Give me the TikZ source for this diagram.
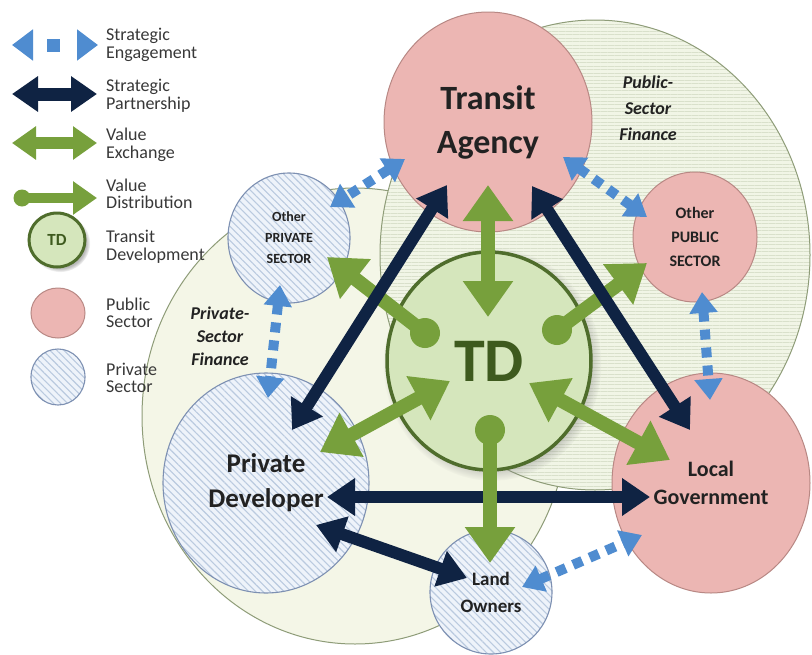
\documentclass[tikz,border=0pt]{standalone}
\usepackage{fontspec}
\setmainfont{Carlito}
\usetikzlibrary{arrows.meta,calc,shapes.geometric,patterns.meta,shadows}

\definecolor{navy}{HTML}{0F2343}
\definecolor{vgreen}{HTML}{77A03C}
\definecolor{sblue}{HTML}{4F8CD0}
\definecolor{pinkfill}{HTML}{ECB6B3}
\definecolor{pinkline}{HTML}{B88884}
\definecolor{tdfill}{HTML}{D5E6BC}
\definecolor{tdline}{HTML}{4F6D2C}
\definecolor{tdtext}{HTML}{3E5A1E}
\definecolor{privfill}{HTML}{EEF3FA}
\definecolor{privhatch}{HTML}{BACADF}
\definecolor{privline}{HTML}{7D90B2}
\definecolor{finfill}{HTML}{F4F6E7}
\definecolor{pubfinfill}{HTML}{F1F5E6}
\definecolor{pubfinhatch}{HTML}{D9E0CB}
\definecolor{finline}{HTML}{8E9C78}
\definecolor{txt}{HTML}{222222}
\definecolor{legtxt}{HTML}{383838}

\tikzset{
  pubnode/.style={ellipse, inner sep=0pt, fill=pinkfill, draw=pinkline, line width=1pt, align=center, text=txt},
  privnode/.style={ellipse, inner sep=0pt, preaction={fill=privfill},
    pattern={Lines[angle=-45,distance=5pt,line width=1.1pt]}, pattern color=privhatch,
    draw=privline, line width=1.1pt, align=center, text=txt},
  tdnode/.style={ellipse, inner sep=0pt, fill=tdfill, draw=tdline, line width=3.5pt, text=tdtext,
    circular drop shadow={shadow xshift=3pt, shadow yshift=-3pt, shadow scale=1.07, opacity=.55}},
  finarea/.style={draw=finline, line width=1pt, fill=finfill},
  pubfinarea/.style={draw=finline, line width=1pt, preaction={fill=pubfinfill},
    pattern={Lines[angle=0,distance=3.5pt,line width=.6pt]}, pattern color=pubfinhatch},
  fintext/.style={align=center, inner sep=0pt, text=txt, font=\fontsize{18}{26}\selectfont\bfseries\itshape},
  legtext/.style={align=left, inner sep=0pt, anchor=west, text=legtxt, font=\fontsize{18}{17.5}\selectfont},
  navyarr/.style={draw=navy, line width=12pt, arrows={Triangle[width=36pt,length=28pt]-Triangle[width=36pt,length=28pt]}},
  vearr/.style={draw=vgreen, line width=14pt, arrows={Triangle[width=48pt,length=36pt]-Triangle[width=48pt,length=36pt]}},
  vdarr/.style={draw=vgreen, line width=14pt, arrows={-Triangle[width=48pt,length=36pt]}},
  searr/.style={draw=sblue, line width=10pt, dash pattern=on 10pt off 8pt,
    arrows={Triangle[width=27pt,length=21pt]-Triangle[width=27pt,length=21pt]}},
}

\begin{document}
\begin{tikzpicture}[x=1pt,y=-1pt]
\useasboundingbox (0,0) rectangle (812,654);
\fill[white] (0,0) rectangle (812,654);

% finance areas
\draw[finarea] (355,416) ellipse [x radius=213pt, y radius=228pt];
\draw[pubfinarea] (595,255) ellipse [x radius=215pt, y radius=235pt];
\node[fintext] (pubfin) at (648,108) {Public-\\Sector\\Finance};
\node[fintext, font=\fontsize{18}{23}\selectfont\bfseries\itshape] (privfin) at (220,336) {Private-\\Sector\\Finance};

% legend
\coordinate (le1a) at (12,45);  \coordinate (le1b) at (98,45);
\coordinate (le2a) at (12,94);  \coordinate (le2b) at (97,94);
\coordinate (le3a) at (12,143); \coordinate (le3b) at (97,143);
\coordinate (le4a) at (22,198); \coordinate (le4b) at (97,198);
\draw[searr, line width=13pt, dash pattern=on 0pt off 15.5pt on 13pt off 100pt,
  arrows={Triangle[width=30pt,length=21pt]-Triangle[width=30pt,length=21pt]}] (le1a) -- (le1b);
\draw[navyarr, line width=13pt, arrows={Triangle[width=34pt,length=26pt]-Triangle[width=34pt,length=26pt]}] (le2a) -- (le2b);
\draw[vearr, line width=12pt, arrows={Triangle[width=32pt,length=24pt]-Triangle[width=32pt,length=24pt]}] (le3a) -- (le3b);
\fill[vgreen] (le4a) circle[radius=8.5pt];
\draw[vdarr, line width=10pt, arrows={-Triangle[width=32pt,length=24pt]}] (le4a) -- (le4b);
\node[tdnode, minimum width=56pt, minimum height=54pt, line width=3pt,
  font=\fontsize{17}{17}\selectfont\bfseries] (legtd) at (57,240) {TD};
\node[pubnode, minimum width=54pt, minimum height=50pt] (legpub) at (58,313) {};
\node[privnode, minimum width=54pt, minimum height=56pt] (legpriv) at (58,377) {};
\node[legtext] (l1) at (106,45) {Strategic\\Engagement};
\node[legtext] (l2) at (106,96) {Strategic\\Partnership};
\node[legtext] (l3) at (106,145) {Value\\Exchange};
\node[legtext] (l4) at (106,194) {Value\\Distribution};
\node[legtext] (l5) at (106,247) {Transit\\Development};
\node[legtext] (l6) at (106,313) {Public\\Sector};
\node[legtext] (l7) at (106,378) {Private\\Sector};

% main nodes
\node[pubnode, minimum width=208pt, minimum height=220pt, font=\fontsize{34}{44}\selectfont\bfseries] (ta) at (488,122) {Transit\\Agency};
\node[pubnode, minimum width=124pt, minimum height=130pt, font=\fontsize{16}{24}\selectfont\bfseries] (opub) at (695,237) {Other\\PUBLIC\\SECTOR};
\node[pubnode, minimum width=198pt, minimum height=220pt, font=\fontsize{22}{28}\selectfont\bfseries] (lg) at (711,483) {Local\\Government};
\node[privnode, minimum width=122pt, minimum height=130pt, font=\fontsize{14}{21}\selectfont\bfseries] (opriv) at (289,238) {Other\\PRIVATE\\SECTOR};
\node[privnode, minimum width=206pt, minimum height=220pt, font=\fontsize{27}{35}\selectfont\bfseries] (pd) at (266,483) {Private\\Developer};
\node[privnode, minimum width=122pt, minimum height=124pt, font=\fontsize{19}{27}\selectfont\bfseries] (lo) at (491,592) {Land\\Owners};
\node[tdnode, minimum width=204pt, minimum height=218pt, font=\fontsize{62}{62}\selectfont\bfseries] (td) at (489,361) {TD};

% strategic engagement (blue dotted)
\draw[searr] ($(ta)+(-83,37)$) -- ($(opriv)+(41,-31)$);
\draw[searr] ($(ta)+(75,35)$) -- ($(opub)+(-48,-20)$);
\draw[searr] ($(opub)+(7,55)$) -- ($(lg)+(-1,-83)$);
\draw[searr] ($(opriv)+(-9,47)$) -- ($(pd)+(2,-85)$);
\draw[searr] ($(lo)+(31,-5)$) -- ($(lg)+(-69,52)$);

% value distribution to other sectors
\coordinate (g4s) at ($(td)+(-64,-28)$);
\coordinate (g5s) at ($(td)+(68,-31)$);
\coordinate (g6s) at ($(td)+(1,69)$);
\fill[vgreen] (g4s) circle[radius=15pt];
\fill[vgreen] (g5s) circle[radius=15pt];
\draw[vdarr] (g4s) -- ($(opriv)+(38,19)$);
\draw[vdarr] (g5s) -- ($(opub)+(-48,26)$);

% strategic partnership (navy)
\draw[navyarr] ($(ta)+(-41,63)$) -- ($(pd)+(26,-53)$);
\draw[navyarr] ($(ta)+(44,64)$) -- ($(lg)+(-21,-53)$);
\draw[navyarr] ($(pd)+(61,14)$) -- ($(lg)+(-61,14)$);
\draw[navyarr] ($(pd)+(50,42)$) -- ($(lo)+(-24,-14)$);

% value exchange (green)
\draw[vearr] ($(td)+(-1,-44)$) -- ($(ta)+(0,63)$);
\draw[vearr] ($(td)+(-39,20)$) -- ($(pd)+(54,-31)$);
\draw[vearr] ($(td)+(40,22)$) -- ($(lg)+(-41,-23)$);
\fill[vgreen] (g6s) circle[radius=15pt];
\draw[vdarr] (g6s) -- ($(lo)+(-1,-29)$);
\end{tikzpicture}
\end{document}
